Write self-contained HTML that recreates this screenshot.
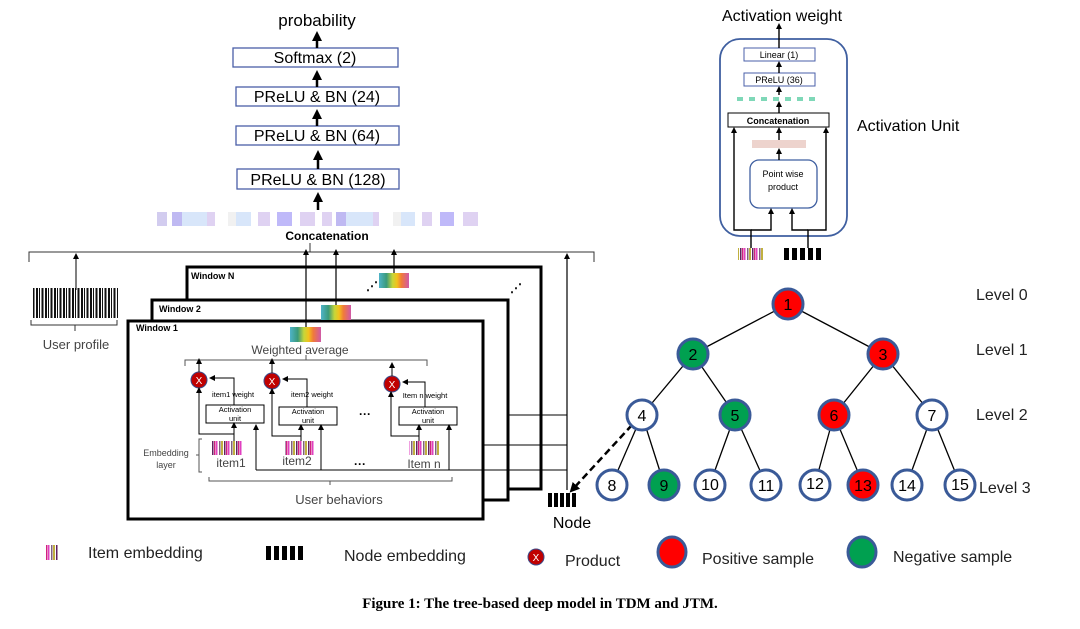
<!DOCTYPE html>
<html><head><meta charset="utf-8"><style>
body{margin:0;background:#fff;}
svg text{font-family:"Liberation Sans",sans-serif;}
</style></head><body>
<svg width="1080" height="624" viewBox="0 0 1080 624" xmlns="http://www.w3.org/2000/svg">
<defs>
<marker id="a" markerWidth="6" markerHeight="6" refX="3" refY="3" orient="auto" markerUnits="userSpaceOnUse"><path d="M0,0L6,3L0,6z" fill="#000"/></marker>
<marker id="A" markerWidth="10" markerHeight="10" refX="5" refY="5" orient="auto" markerUnits="userSpaceOnUse"><path d="M0,0L10,5L0,10z" fill="#000"/></marker>
<linearGradient id="rb" x1="0" x2="1"><stop offset="0" stop-color="#4fb3c8"/><stop offset=".25" stop-color="#3a9a7a"/><stop offset=".45" stop-color="#c6d63a"/><stop offset=".6" stop-color="#f2c21c"/><stop offset=".75" stop-color="#f07a3a"/><stop offset="1" stop-color="#d05aa8"/></linearGradient>
<pattern id="it" width="12" height="14" patternUnits="userSpaceOnUse"><rect width="12" height="14" fill="#fff"/><rect x="0" width="1.5" height="14" fill="#e040c0"/><rect x="3" width="1.5" height="14" fill="#806080"/><rect x="5" width="2" height="14" fill="#c0b040"/><rect x="8" width="1.5" height="14" fill="#602060"/><rect x="10" width="1.5" height="14" fill="#d02080"/></pattern>
<pattern id="bc" width="9" height="30" patternUnits="userSpaceOnUse"><rect width="9" height="30" fill="#fff"/><rect x="0" width="2" height="30" fill="#111"/><rect x="3" width="1" height="30" fill="#111"/><rect x="5.5" width="2" height="30" fill="#111"/></pattern>
</defs>

<!-- top stack -->
<text x="317" y="26" font-size="17" text-anchor="middle">probability</text>
<g fill="none" stroke="#4a5fa8" stroke-width="1.3">
<rect x="233" y="48" width="165" height="19"/><rect x="236" y="87" width="163" height="19"/><rect x="236" y="126" width="163" height="19"/><rect x="237" y="169" width="162" height="20"/>
</g>
<g font-size="16" text-anchor="middle">
<text x="315" y="63">Softmax (2)</text><text x="317" y="102">PReLU &amp; BN (24)</text><text x="317" y="141">PReLU &amp; BN (64)</text><text x="318" y="185">PReLU &amp; BN (128)</text>
</g>
<g stroke="#000" stroke-width="2.5" marker-end="url(#A)">
<line x1="317" y1="48" x2="317" y2="36"/><line x1="317" y1="87" x2="317" y2="75"/><line x1="317" y1="126" x2="317" y2="114"/><line x1="318" y1="169" x2="318" y2="155"/><line x1="318" y1="210" x2="318" y2="197"/>
</g>
<!-- concat bar -->
<g opacity=".8">
<rect x="157" y="212" width="10" height="14" fill="#c8c0ec"/><rect x="172" y="212" width="10" height="14" fill="#b0a8f0"/><rect x="182" y="212" width="25" height="14" fill="#cfe0fa"/><rect x="207" y="212" width="8" height="14" fill="#d8c8f0"/><rect x="228" y="212" width="8" height="14" fill="#eee"/><rect x="236" y="212" width="15" height="14" fill="#cfe0fa"/><rect x="258" y="212" width="12" height="14" fill="#d8c8f0"/><rect x="277" y="212" width="15" height="14" fill="#b0a8f8"/><rect x="300" y="212" width="15" height="14" fill="#d8c8f0"/><rect x="322" y="212" width="10" height="14" fill="#d8c8f0"/><rect x="336" y="212" width="10" height="14" fill="#b0a8f0"/><rect x="346" y="212" width="27" height="14" fill="#cfe0fa"/><rect x="373" y="212" width="6" height="14" fill="#d8c8f0"/><rect x="393" y="212" width="8" height="14" fill="#eee"/><rect x="401" y="212" width="14" height="14" fill="#cfe0fa"/><rect x="422" y="212" width="10" height="14" fill="#d8c8f0"/><rect x="440" y="212" width="14" height="14" fill="#b0a8f8"/><rect x="463" y="212" width="15" height="14" fill="#d8c8f0"/>
</g>
<text x="327" y="240" font-size="12" font-weight="bold" text-anchor="middle">Concatenation</text>
<path d="M29,262 V252 H310 V243 M310,252 H594 V262" fill="none" stroke="#333" stroke-width="1"/>

<!-- user profile -->
<rect x="33" y="288" width="85" height="30" fill="url(#bc)"/>
<path d="M31,320 v5 H117 v-5 M75,325 v6" fill="none" stroke="#333"/>
<text x="76" y="349" font-size="13" text-anchor="middle" fill="#444">User profile</text>
<line x1="76" y1="290" x2="76" y2="256" stroke="#000" marker-end="url(#a)"/>

<!-- windows -->
<g fill="#fff" stroke="#000" stroke-width="3">
<rect x="187" y="267" width="354" height="222"/>
<rect x="152" y="300" width="356" height="200"/>
<rect x="128" y="321" width="355" height="198"/>
</g>
<g font-size="9" font-weight="bold">
<text x="191" y="279">Window N</text><text x="159" y="312">Window 2</text><text x="136" y="331">Window 1</text>
</g>
<rect x="379" y="273" width="30" height="15" fill="url(#rb)"/>
<rect x="321" y="305" width="30" height="15" fill="url(#rb)"/>
<rect x="290" y="327" width="31" height="15" fill="url(#rb)"/>
<text x="366" y="290" font-size="12" font-weight="bold">⋰</text>
<text x="510" y="292" font-size="12" font-weight="bold">⋰</text>
<g stroke="#000" stroke-width="1.2" marker-end="url(#a)">
<line x1="306" y1="327" x2="306" y2="252"/><line x1="336" y1="305" x2="336" y2="252"/><line x1="394" y1="273" x2="394" y2="252"/><line x1="567" y1="490" x2="567" y2="256"/>
</g>
<text x="300" y="354" font-size="12" text-anchor="middle" fill="#444">Weighted average</text>
<path d="M185,366 v-6 H427 v6 M306,360 v-5" fill="none" stroke="#555"/>

<!-- inner units -->
<g font-size="8" text-anchor="middle">
<g id="u">
</g>
</g>
<g stroke="#000" stroke-width="1" fill="none">
<rect x="206" y="405" width="58" height="18" fill="#fff"/>
<rect x="279" y="407" width="58" height="18" fill="#fff"/>
<rect x="399" y="407" width="58" height="18" fill="#fff"/>
</g>
<g font-size="7.5" text-anchor="middle">
<text x="235" y="412">Activation</text><text x="235" y="421">unit</text>
<text x="308" y="414">Activation</text><text x="308" y="423">unit</text>
<text x="428" y="414">Activation</text><text x="428" y="423">unit</text>
<text x="233" y="397">item1 weight</text><text x="312" y="397">item2 weight</text><text x="425" y="398">Item n weight</text>
</g>
<g fill="#c00000" stroke="#3a4a8a" stroke-width="1"><circle cx="199" cy="380" r="8"/><circle cx="272" cy="381" r="8"/><circle cx="392" cy="384" r="8"/></g>
<g fill="#fff" font-size="10" text-anchor="middle"><text x="199" y="384">X</text><text x="272" y="385">X</text><text x="392" y="388">X</text></g>
<g stroke="#000" stroke-width="1" fill="none" marker-end="url(#a)">
<line x1="199" y1="372" x2="199" y2="361"/><line x1="272" y1="373" x2="272" y2="361"/><line x1="392" y1="376" x2="392" y2="365"/>
<path d="M234,405 V378 H212"/><path d="M307,407 V379 H285"/><path d="M425,407 V382 H405"/>
<path d="M234,441 V434 H199 V390"/><path d="M301,441 V436 H272 V391"/><path d="M419,441 V436 H391 V394"/>
<line x1="234" y1="434" x2="234" y2="425"/><line x1="301" y1="436" x2="301" y2="427"/><line x1="419" y1="436" x2="419" y2="427"/>
<path d="M256,470 V427"/><path d="M321,470 V427"/><path d="M449,470 V427"/>
</g>
<path d="M256,470 H567" stroke="#000" fill="none"/>
<path d="M483,445 H567 M508,415 H567" stroke="#000" fill="none"/>
<rect x="212" y="441" width="30" height="14" fill="url(#it)"/>
<rect x="285" y="441" width="30" height="14" fill="url(#it)"/>
<rect x="409" y="441" width="30" height="14" fill="url(#it)"/>
<g font-size="12" fill="#444" text-anchor="middle"><text x="231" y="467">item1</text><text x="297" y="465">item2</text><text x="424" y="468">Item n</text></g>
<text x="365" y="418" font-size="12" font-weight="bold" text-anchor="middle">···</text>
<text x="360" y="468" font-size="12" font-weight="bold" text-anchor="middle">···</text>
<text x="166" y="456" font-size="9" text-anchor="middle" fill="#444">Embedding</text>
<text x="166" y="468" font-size="9" text-anchor="middle" fill="#444">layer</text>
<path d="M202,439 h-3 V472 h3 M199,455 h-3" fill="none" stroke="#555"/>
<path d="M209,477 v4 H452 v-4 M330,481 v4" fill="none" stroke="#555"/>
<text x="339" y="504" font-size="13" text-anchor="middle" fill="#444">User behaviors</text>

<!-- node -->
<g fill="#000"><rect x="548" y="493" width="4" height="14"/><rect x="554" y="493" width="4" height="14"/><rect x="560" y="493" width="4" height="14"/><rect x="566" y="493" width="4" height="14"/><rect x="572" y="493" width="4" height="14"/></g>
<text x="572" y="528" font-size="16" text-anchor="middle">Node</text>
<line x1="632" y1="425" x2="573" y2="489" stroke="#000" stroke-width="2.5" stroke-dasharray="7,4" marker-end="url(#A)"/>

<!-- activation unit -->
<text x="782" y="21" font-size="16" text-anchor="middle">Activation weight</text>
<rect x="720" y="39" width="127" height="197" rx="20" fill="none" stroke="#3f5fa0" stroke-width="1.8"/>
<g fill="none" stroke="#4a5fa8"><rect x="744" y="48" width="71" height="13"/><rect x="744" y="73" width="71" height="13"/></g>
<rect x="728" y="113" width="101" height="14" fill="none" stroke="#000"/>
<rect x="750" y="160" width="67" height="48" rx="9" fill="none" stroke="#3f5fa0" stroke-width="1.3"/>
<g font-size="9" text-anchor="middle"><text x="779" y="58">Linear (1)</text><text x="779" y="83">PReLU (36)</text><text x="778" y="124" font-weight="bold">Concatenation</text><text x="783" y="177">Point wise</text><text x="783" y="190">product</text></g>
<line x1="737" y1="99" x2="817" y2="99" stroke="#7fd8b8" stroke-width="4" stroke-dasharray="6,6"/>
<rect x="752" y="140" width="54" height="8" fill="#e8c8c0" opacity=".8"/>
<g stroke="#000" stroke-width="1.4" fill="none" marker-end="url(#a)">
<line x1="779" y1="48" x2="779" y2="26"/><line x1="779" y1="73" x2="779" y2="64"/><line x1="779" y1="95" x2="779" y2="89"/><line x1="779" y1="113" x2="779" y2="104"/><line x1="779" y1="140" x2="779" y2="130"/><line x1="779" y1="160" x2="779" y2="151"/>
<path d="M751,248 V230 H734 V130"/><path d="M751,230 H771 V211"/><path d="M808,248 V230 H826 V130"/><path d="M808,230 H792 V211"/>
</g>
<rect x="738" y="248" width="25" height="12" fill="url(#it)"/>
<g fill="#000"><rect x="784" y="248" width="5" height="12"/><rect x="792" y="248" width="5" height="12"/><rect x="800" y="248" width="5" height="12"/><rect x="808" y="248" width="5" height="12"/><rect x="816" y="248" width="5" height="12"/></g>
<text x="857" y="131" font-size="16">Activation Unit</text>

<!-- tree -->
<g stroke="#000" stroke-width="1.3">
<line x1="788" y1="304" x2="693" y2="354"/><line x1="788" y1="304" x2="883" y2="354"/>
<line x1="693" y1="354" x2="642" y2="415"/><line x1="693" y1="354" x2="735" y2="415"/>
<line x1="883" y1="354" x2="834" y2="415"/><line x1="883" y1="354" x2="932" y2="415"/>
<line x1="642" y1="415" x2="612" y2="484"/><line x1="642" y1="415" x2="664" y2="484"/>
<line x1="735" y1="415" x2="710" y2="484"/><line x1="735" y1="415" x2="766" y2="484"/>
<line x1="834" y1="415" x2="815" y2="484"/><line x1="834" y1="415" x2="863" y2="484"/>
<line x1="932" y1="415" x2="907" y2="484"/><line x1="932" y1="415" x2="960" y2="484"/>
</g>
<g stroke="#3a5a98" stroke-width="3">
<circle cx="788" cy="304" r="15" fill="#f00"/><circle cx="693" cy="354" r="15" fill="#00a050"/><circle cx="883" cy="354" r="15" fill="#f00"/>
<circle cx="642" cy="415" r="15" fill="#fff"/><circle cx="735" cy="415" r="15" fill="#00a050"/><circle cx="834" cy="415" r="15" fill="#f00"/><circle cx="932" cy="415" r="15" fill="#fff"/>
<circle cx="612" cy="485" r="15" fill="#fff"/><circle cx="664" cy="485" r="15" fill="#00a050"/><circle cx="710" cy="485" r="15" fill="#fff"/><circle cx="766" cy="485" r="15" fill="#fff"/><circle cx="815" cy="485" r="15" fill="#fff"/><circle cx="863" cy="485" r="15" fill="#f00"/><circle cx="907" cy="485" r="15" fill="#fff"/><circle cx="960" cy="485" r="15" fill="#fff"/>
</g>
<g font-size="16" text-anchor="middle">
<text x="788" y="310">1</text><text x="693" y="360">2</text><text x="883" y="360">3</text><text x="642" y="421">4</text><text x="735" y="421">5</text><text x="834" y="421">6</text><text x="932" y="421">7</text>
<text x="612" y="491">8</text><text x="664" y="491">9</text><text x="710" y="490">10</text><text x="766" y="491">11</text><text x="815" y="489">12</text><text x="863" y="491">13</text><text x="907" y="491">14</text><text x="960" y="490">15</text>
</g>
<g font-size="16" fill="#222"><text x="976" y="300">Level 0</text><text x="976" y="355">Level 1</text><text x="976" y="420">Level 2</text><text x="979" y="493">Level 3</text></g>

<!-- legend -->
<rect x="46" y="545" width="12" height="15" fill="url(#it)"/>
<text x="88" y="558" font-size="16" fill="#222">Item embedding</text>
<g fill="#000"><rect x="266" y="546" width="5" height="14"/><rect x="274" y="546" width="5" height="14"/><rect x="282" y="546" width="5" height="14"/><rect x="290" y="546" width="5" height="14"/><rect x="298" y="546" width="5" height="14"/></g>
<text x="344" y="561" font-size="16" fill="#222">Node embedding</text>
<circle cx="536" cy="557" r="8" fill="#c00000" stroke="#3a4a8a"/><text x="536" y="561" font-size="10" fill="#fff" text-anchor="middle">X</text>
<text x="565" y="566" font-size="16" fill="#222">Product</text>
<ellipse cx="672" cy="552" rx="14" ry="15" fill="#f00" stroke="#3a5a98" stroke-width="3"/>
<text x="702" y="564" font-size="16" fill="#222">Positive sample</text>
<ellipse cx="862" cy="552" rx="14" ry="15" fill="#00a050" stroke="#3a5a98" stroke-width="3"/>
<text x="893" y="562" font-size="16" fill="#222">Negative sample</text>

<text x="540" y="608" font-size="15" font-weight="bold" text-anchor="middle" style="font-family:'Liberation Serif',serif">Figure 1: The tree-based deep model in TDM and JTM.</text>
</svg>
</body></html>
